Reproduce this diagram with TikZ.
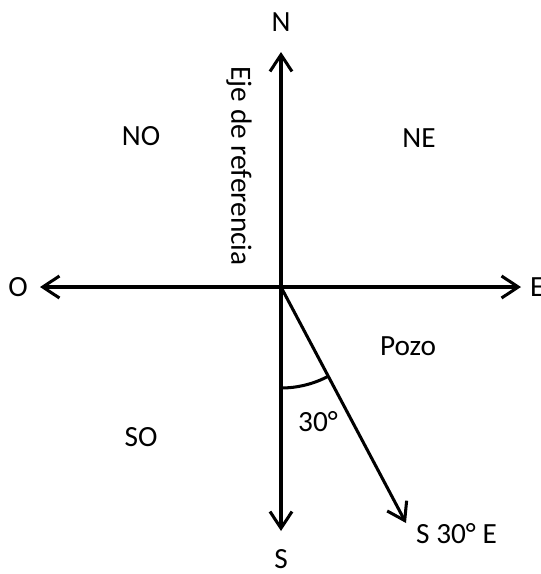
\documentclass[tikz,border=0pt]{standalone}
\usepackage{fontspec}
\setmainfont{Carlito}
\usetikzlibrary{arrows.meta,calc}
\begin{document}
\begin{tikzpicture}[x=0.03cm, y=-0.03cm,
            axis/.style={line width=2.6pt, -{Straight Barb[length=5mm, width=6.6mm, line width=2.6pt]}},
            lbl/.style={font=\fontsize{25}{30}\selectfont, inner sep=0pt}
            ]
            \useasboundingbox (0,0) rectangle (541,574);
            \coordinate (c) at (281,287);
            \coordinate (nt) at (281,52);
            \coordinate (st) at (281,531);
            \coordinate (ot) at (40,287);
            \coordinate (et) at (521,287);
            \coordinate (pt) at (406,523);
            \node[lbl] (n) at (281,22) {N};
            \node[lbl] (s) at (281,559) {S};
            \node[lbl] (o) at (18,287) {O};
            \node[lbl, anchor=west] (e) at (530,287) {E};
            \node[lbl] (no) at (141,136) {NO};
            \node[lbl] (ne) at (419,138) {NE};
            \node[lbl] (so) at (141,437) {SO};
            \node[lbl] (pozo) at (408,346) {Pozo};
            \node[lbl] (ang) at (318,422) {30°};
            \node[lbl, anchor=west] (rumbo) at (416,534) {S 30° E};
            \node[lbl, rotate=-90] (eje) at (239,166) {Eje de referencia};

            \draw[axis] (c)--(nt);
            \draw[axis] (c)--(st);
            \draw[axis] (c)--(ot);
            \draw[axis] (c)--(et);
            \draw[axis] (c)--(pt);
            \draw[line width=2.6pt] ($(c)+(0,101)$) arc[start angle=90, end angle=62, radius=101];
\end{tikzpicture}
\end{document}
